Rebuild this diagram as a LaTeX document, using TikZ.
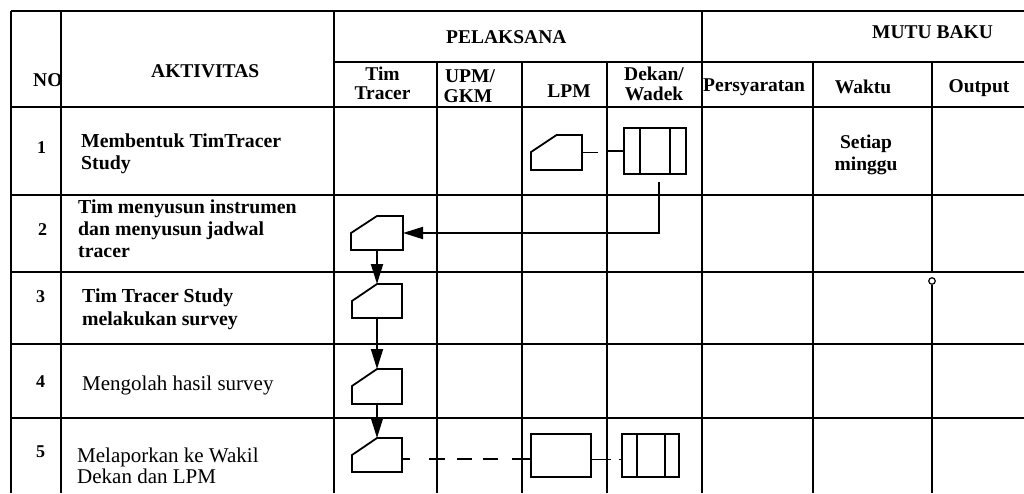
\documentclass[tikz,border=0pt]{standalone}
\usepackage{fontspec}
\setmainfont{Liberation Serif}
\usetikzlibrary{arrows.meta,calc}
\begin{document}
\begin{tikzpicture}[x=1pt,y=-1pt,
  gridline/.style={line width=2pt},
  shp/.style={draw,line width=1.8pt,inner sep=0pt,outer sep=0pt},
  cardn/.style={inner sep=0pt,outer sep=0pt},
  conn/.style={line width=1.8pt},
  arr/.style={line width=1.8pt,-{Triangle[length=20pt,width=12pt]}},
  dsh/.style={line width=1.8pt,dash pattern=on 8pt off 19pt on 16pt off 12pt on 15pt off 11pt on 15pt off 14pt on 19pt off 0.01pt},
  dsh2/.style={line width=1.8pt,dash pattern=on 20pt off 8pt on 4pt off 0.01pt},
  hd/.style={font=\fontsize{19.5}{22}\selectfont\bfseries,inner sep=0pt,anchor=base},
  hdw/.style={hd,anchor=base west},
  bt/.style={font=\fontsize{19.8}{22}\selectfont\bfseries,inner sep=0pt,anchor=base west},
  rt/.style={font=\fontsize{21}{22}\selectfont,inner sep=0pt,anchor=base west},
  num/.style={font=\fontsize{18}{20}\selectfont\bfseries,inner sep=0pt,anchor=base west}]
\useasboundingbox (0,0) rectangle (1024,493);
% grid
\draw[gridline] (11,11) -- (1024,11);
\draw[gridline] (334,62) -- (1024,62);
\foreach \y in {107,195,272,344,418} \draw[gridline] (11,\y) -- (1024,\y);
\foreach \x in {11,61,334,702} \draw[gridline] (\x,11) -- (\x,493);
\foreach \x in {437,522,607,813} \draw[gridline] (\x,62) -- (\x,493);
\draw[gridline] (932,62) -- (932,272);
\node[circle,draw,line width=1.2pt,minimum size=6.5pt,inner sep=0pt,fill=white] (o) at (932,281) {};
\coordinate (obot) at (932,493);
\draw[gridline] (o.south) -- (obot);
% header texts
\node[hdw] (hno) at (33,86) {NO};
\node[hdw] (hakt) at (151,77) {AKTIVITAS};
\node[hdw] (hpel) at (446,43) {PELAKSANA};
\node[hdw] (hmut) at (872,38) {MUTU BAKU};
\node[hd] (htim1) at (382.5,80) {Tim};
\node[hd] (htim2) at (382.5,99) {Tracer};
\node[hd] (hupm1) at (470,82) {UPM/};
\node[hd] (hupm2) at (468,102) {GKM};
\node[hd] (hlpm) at (569,97) {LPM};
\node[hd] (hdek1) at (654,80) {Dekan/};
\node[hd] (hdek2) at (654,100) {Wadek};
\node[hdw] (hper) at (703,91) {Persyaratan};
\node[hd] (hwak) at (863,93) {Waktu};
\node[hd] (hout) at (979,92) {Output};
% row texts
\node[num] (n1) at (37,153) {1};
\node[bt] (t1a) at (81,147) {Membentuk TimTracer};
\node[bt] (t1b) at (81,169) {Study};
\node[num] (n2) at (38,235) {2};
\node[bt] (t2a) at (78,213) {Tim menyusun instrumen};
\node[bt] (t2b) at (78,235) {dan menyusun jadwal};
\node[bt] (t2c) at (78,257) {tracer};
\node[num] (n3) at (36,302) {3};
\node[bt] (t3a) at (82,302) {Tim Tracer Study};
\node[bt] (t3b) at (82,325) {melakukan survey};
\node[num] (n4) at (36,387) {4};
\node[rt] (t4a) at (82,390) {Mengolah hasil survey};
\node[num] (n5) at (36,457) {5};
\node[rt] (t5a) at (77,462) {Melaporkan ke Wakil};
\node[rt] (t5b) at (77,483) {Dekan dan LPM};
\node[hd] (w1a) at (866,148) {Setiap};
\node[hd] (w1b) at (866,170) {minggu};
% cards (manual input shape)
\node[cardn,minimum width=51pt,minimum height=35pt] (c1) at (556.5,152.5) {};
\node[cardn,minimum width=52pt,minimum height=34pt] (c2) at (377,233) {};
\node[cardn,minimum width=50pt,minimum height=34pt] (c3) at (377,301) {};
\node[cardn,minimum width=50pt,minimum height=35pt] (c4) at (377,386.5) {};
\node[cardn,minimum width=50pt,minimum height=34pt] (c5) at (377,455) {};
\foreach \c in {c1,c2,c3,c4,c5}
  \draw[line width=1.8pt,line join=miter] (\c.south west) -- ([yshift=-17pt]\c.north west) -- (\c.north) -- (\c.north east) -- (\c.south east) -- cycle;
% predefined process boxes
\node[shp,minimum width=62pt,minimum height=46pt] (b1) at (655,151) {};
\draw[line width=1.8pt] ([xshift=16pt]b1.north west) -- ([xshift=16pt]b1.south west);
\draw[line width=1.8pt] ([xshift=-16pt]b1.north east) -- ([xshift=-16pt]b1.south east);
\node[shp,minimum width=57pt,minimum height=43pt] (b5) at (650.5,455.5) {};
\draw[line width=1.8pt] ([xshift=15pt]b5.north west) -- ([xshift=15pt]b5.south west);
\draw[line width=1.8pt] ([xshift=-14pt]b5.north east) -- ([xshift=-14pt]b5.south east);
% process rectangle
\node[shp,minimum width=60pt,minimum height=43pt] (r5) at (561,455.5) {};
% connectors
\coordinate (k1) at (598,152.5);
\coordinate (k2) at (607,151);
\draw[conn] (c1.east) -- (k1);
\draw[conn] (k2) -- (b1.west);
\coordinate (k3) at (659,182);
\draw[arr] (k3) -- (k3 |- c2.east) -- (c2.east);
\draw[arr] (c2.south) -- (c3.north);
\draw[arr] (c3.south) -- (c4.north);
\draw[arr] (c4.south) -- (c5.north);
\draw[dsh] ([yshift=-4pt]c5.east) -- ([yshift=-4pt]c5.east -| r5.west);
\draw[dsh2] ([yshift=-4pt]r5.east) -- ([yshift=-4pt]r5.east -| b5.west);
\end{tikzpicture}
\end{document}
